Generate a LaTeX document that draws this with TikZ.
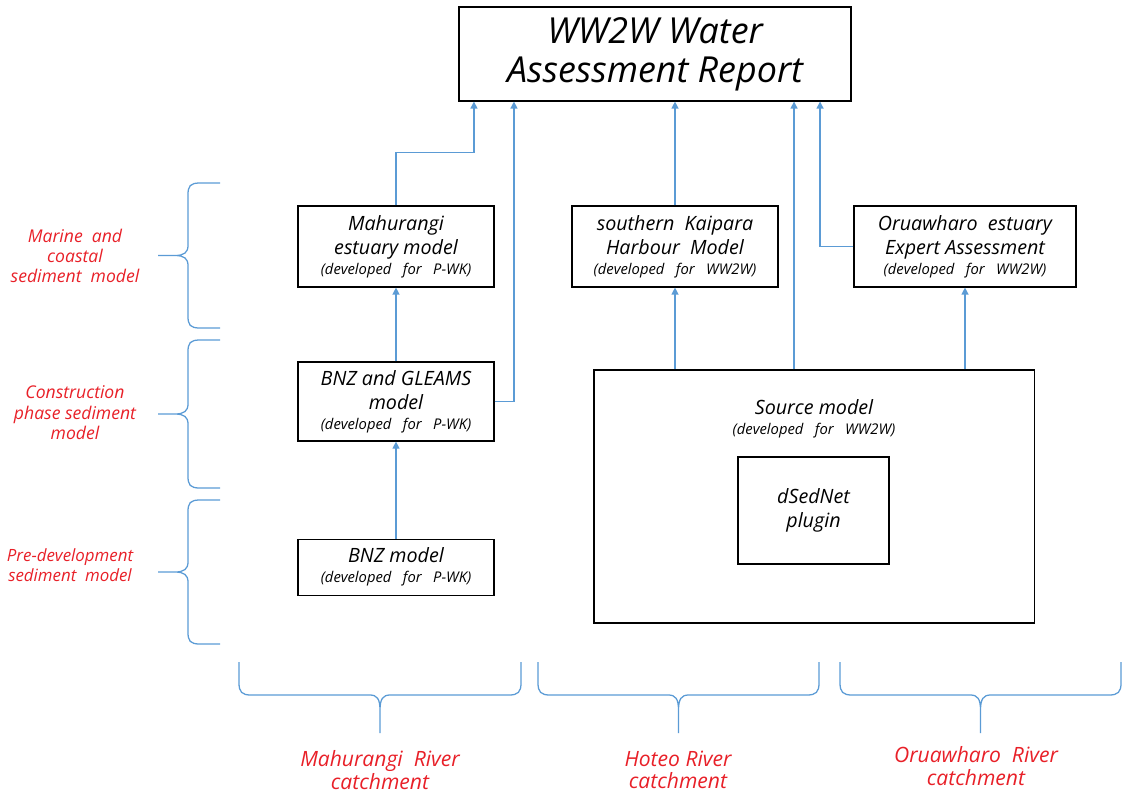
\documentclass[tikz,border=0pt]{standalone}
\usepackage{fontspec}
\setmainfont{Open Sans}
\usepackage{xcolor}
\usepackage{tikz}
\usetikzlibrary{positioning, arrows.meta}

\definecolor{flowblue}{RGB}{91,155,213}
\definecolor{tagred}{RGB}{232,32,40}
\newcommand{\devfor}[1]{\\[-3pt]{\fontsize{10.5}{12}\selectfont (developed\ \ \ for\ \ \ #1)}}

\begin{document}
\begin{tikzpicture}[x=0.025cm, y=-0.025cm, on grid,
    box/.style={draw, line width=0.8pt, align=center, inner sep=2pt,
        font=\itshape\fontsize{14}{17}\selectfont},
    flow/.style={draw=flowblue, line width=0.9pt, -{Triangle[length=5pt, width=5pt]}},
    brace/.style={draw=flowblue, line width=0.9pt},
    tag/.style={text=tagred, align=center, font=\itshape\fontsize{12.5}{14.5}\selectfont},
    river/.style={text=tagred, align=center, font=\itshape\fontsize{15}{16}\selectfont}]
        \useasboundingbox (0,0) rectangle (1124,796);

        \node[box, minimum width=9.8cm, minimum height=2.35cm,
            font=\itshape\fontsize{25.5}{27.5}\selectfont] (report) at (655,54)
            {WW2W Water\\Assessment Report};

        % Mahurangi column
        \node[box, minimum width=4.9cm, minimum height=2.025cm] (mah) at (396,246.5)
            {Mahurangi\\estuary model\devfor{P-WK}};
        \node[box, minimum width=4.9cm, minimum height=1.975cm] (gleams) [below=3.875cm of mah]
            {BNZ and GLEAMS\\model\devfor{P-WK}};
        \node[box, minimum width=4.9cm, minimum height=1.4cm] (bnz) [below=4.1375cm of gleams]
            {BNZ model\devfor{P-WK}};

        % Hoteo and Oruawharo columns
        \node[box, minimum width=5.15cm, minimum height=2.025cm] (kaipara) at (675,246.5)
            {southern\ \ Kaipara\\Harbour\ \ Model\devfor{WW2W}};
        \node[box, minimum width=5.55cm, minimum height=2.025cm] (oru) at (965,246.5)
            {Oruawharo\ \ estuary\\Expert Assessment\devfor{WW2W}};
        \node[box, minimum width=11cm, minimum height=6.325cm] (source) at (814,496.5) {};
        \node[anchor=north, align=center, inner sep=0pt, font=\itshape\fontsize{14}{17}\selectfont]
            (srclabel) at ([yshift=-0.75cm]source.north) {Source model\devfor{WW2W}};
        \node[box, minimum width=3.775cm, minimum height=2.675cm] (dsed) at (813.5,510.5)
            {dSedNet\\plugin};

        % inputs to the report
        \coordinate (in1) at ([xshift=-4.525cm]report.south);
        \coordinate (in2) at ([xshift=-3.525cm]report.south);
        \coordinate (in4) at ([xshift=3.475cm]report.south);
        \coordinate (in5) at ([xshift=4.125cm]report.south);

        \draw[flow] (mah.north) -- ++(0,-53) -| (in1);
        \draw[flow] (gleams.east) -| (in2);
        \draw[flow] (kaipara.north) -- (kaipara.north |- report.south);
        \draw[flow] (source.north -| in4) -- (in4);
        \draw[flow] (oru.west) -| (in5);

        \draw[flow] (gleams) -- (mah);
        \draw[flow] (bnz) -- (gleams);
        \draw[flow] (source.north -| kaipara) -- (kaipara);
        \draw[flow] (source.north -| oru) -- (oru);

        % sediment model braces
        \foreach \ya/\yb in {183/328, 340/488, 500/644} {
            \draw[brace] (220,\ya) -- (200,\ya) .. controls (190,\ya) and (188,\ya+3) .. (188,\ya+12)
                -- (188,{(\ya+\yb)/2-10}) .. controls (188,{(\ya+\yb)/2-3}) and (184,{(\ya+\yb)/2}) .. (175,{(\ya+\yb)/2})
                -- (158,{(\ya+\yb)/2}) -- (175,{(\ya+\yb)/2})
                .. controls (184,{(\ya+\yb)/2}) and (188,{(\ya+\yb)/2+3}) .. (188,{(\ya+\yb)/2+10})
                -- (188,\yb-12) .. controls (188,\yb-3) and (190,\yb) .. (200,\yb) -- (220,\yb);
        }
        \node[tag] (marine) at (75,256) {Marine\ \ and\\coastal\\sediment\ \ model};
        \node[tag] (constr) at (75,413) {Construction\\phase sediment\\model};
        \node[tag, font=\itshape\fontsize{12}{14.5}\selectfont] (predev) at (70,565)
            {Pre-development\\sediment\ \ model};

        % catchment braces
        \foreach \xa/\xb in {239/521, 538/819, 840/1121} {
            \draw[brace] (\xa,662) -- (\xa,683) .. controls (\xa,692) and (\xa+3,695) .. (\xa+12,695)
                -- ({(\xa+\xb)/2-10},695) .. controls ({(\xa+\xb)/2-3},695) and ({(\xa+\xb)/2},699) .. ({(\xa+\xb)/2},710)
                -- ({(\xa+\xb)/2},733) -- ({(\xa+\xb)/2},710)
                .. controls ({(\xa+\xb)/2},699) and ({(\xa+\xb)/2+3},695) .. ({(\xa+\xb)/2+10},695)
                -- (\xb-12,695) .. controls (\xb-3,695) and (\xb,692) .. (\xb,683) -- (\xb,662);
        }
        \node[river] (mahriver) at (380,770) {Mahurangi\ \ River\\catchment};
        \node[river] (hoteo) at (678,770) {Hoteo River\\catchment};
        \node[river] (oruriver) at (976,766) {Oruawharo\ \ River\\catchment};

    \end{tikzpicture}
\end{document}
